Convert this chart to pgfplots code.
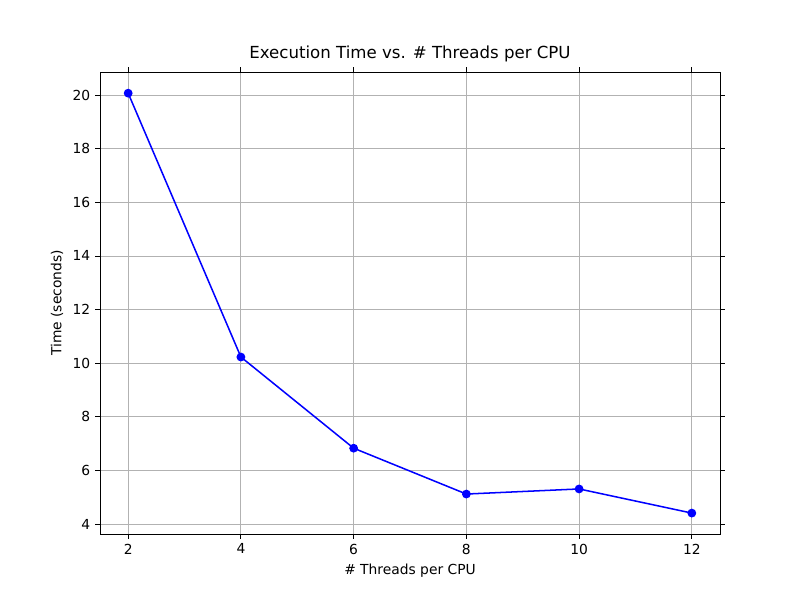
\documentclass[border=0pt]{standalone}
\usepackage{pgfplots}
\pgfplotsset{compat=1.18}
\usepackage{fontspec}
\setmainfont{DejaVu Sans}
\begin{document}
\begin{tikzpicture}
\path (-1in,-0.66in) rectangle (7in,5.34in);
\begin{axis}[at={(0,0)},anchor=south west,scale only axis,width=6.2in,height=4.62in,
xmin=1.5,xmax=12.5,ymin=3.63,ymax=20.86,
xtick={2,4,6,8,10,12},ytick={4,6,...,20},
grid=major,grid style={color=black!30,line width=0.6pt},
tick align=outside,tick style={black,line width=0.6pt},
major tick length=3.5pt,
/pgf/number format/assume math mode=true,
ticklabel style={font=\fontsize{10}{12}\selectfont},
label style={font=\fontsize{10}{12}\selectfont},
title style={font=\fontsize{12}{14}\selectfont,yshift=-2pt},
title={Execution Time vs. \# Threads per CPU},
xlabel={\# Threads per CPU},ylabel={Time (seconds)},
axis line style={line width=0.6pt}]
\addplot[blue,line width=1.1pt,mark=*,mark size=2.6pt,mark options={fill=blue}] coordinates {
(2,20.07)(4,10.23)(6,6.83)(8,5.12)(10,5.31)(12,4.41)};
\end{axis}
\end{tikzpicture}
\end{document}
